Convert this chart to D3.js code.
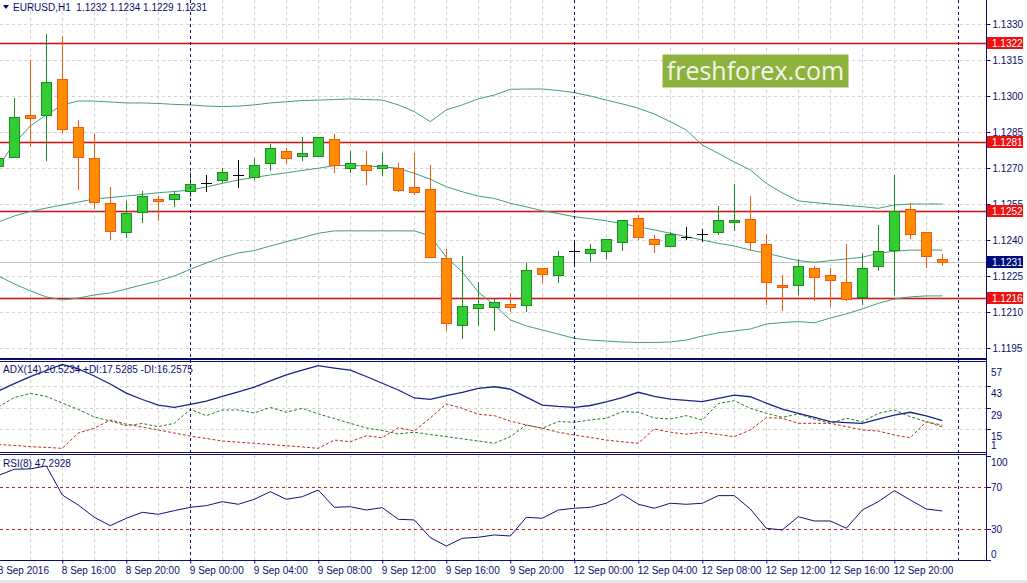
<!DOCTYPE html>
<meta charset="utf-8">
<script src="https://d3js.org/d3.v7.min.js"></script>
<style>
  body { margin: 0; background: #fff; }
  text { font-family: "Liberation Sans", Arial, sans-serif; }
</style>
<body>
<div id="chart"></div>
<script>

// ---- data (EURUSD H1, 8 Sep 12:00 .. 12 Sep 23:00) ----
var openP = [1.12710,1.12747,1.12920,1.12920,1.13070,1.12870,1.12742,1.12553,1.12432,1.12518,
             1.12570,1.12570,1.12603,1.12639,1.12651,1.12670,1.12661,1.12720,1.12770,1.12749,
             1.12749,1.12820,1.12699,1.12711,1.12699,1.12699,1.12620,1.12611,1.12324,1.12045,
             1.12115,1.12122,1.12133,1.12129,1.12283,1.12253,1.12355,1.12345,1.12353,1.12390,
             1.12490,1.12403,1.12374,1.12413,1.12426,1.12433,1.12474,1.12489,1.12382,1.12211,
             1.12211,1.12282,1.12253,1.12224,1.12164,1.12293,1.12360,1.12530,1.12432,1.12320];
var highP = [1.12750,1.12992,1.13150,1.13258,1.13250,1.12900,1.12842,1.12622,1.12563,1.12604,
             1.12583,1.12604,1.12682,1.12671,1.12699,1.12733,1.12742,1.12800,1.12783,1.12828,
             1.12830,1.12842,1.12770,1.12770,1.12761,1.12720,1.12761,1.12711,1.12361,1.12333,
             1.12225,1.12153,1.12180,1.12303,1.12285,1.12355,1.12393,1.12383,1.12405,1.12485,
             1.12504,1.12421,1.12433,1.12453,1.12445,1.12542,1.12633,1.12583,1.12424,1.12253,
             1.12322,1.12293,1.12282,1.12382,1.12345,1.12463,1.12671,1.12553,1.12435,1.12340];
var lowP = [1.12700,1.12740,1.12789,1.12730,1.12847,1.12610,1.12530,1.12400,1.12408,1.12472,
            1.12480,1.12539,1.12580,1.12601,1.12639,1.12618,1.12650,1.12689,1.12718,1.12730,
            1.12747,1.12680,1.12680,1.12630,1.12668,1.12601,1.12589,1.12328,1.12022,1.11988,
            1.12043,1.12022,1.12100,1.12100,1.12220,1.12222,1.12293,1.12308,1.12322,1.12353,
            1.12400,1.12345,1.12372,1.12400,1.12390,1.12421,1.12439,1.12353,1.12129,1.12103,
            1.12172,1.12145,1.12122,1.12146,1.12129,1.12272,1.12172,1.12403,1.12282,1.12290];
var closeP = [1.12740,1.12911,1.12910,1.13057,1.12861,1.12747,1.12560,1.12439,1.12513,1.12583,
              1.12561,1.12592,1.12633,1.12639,1.12682,1.12670,1.12711,1.12782,1.12740,1.12761,
              1.12828,1.12711,1.12720,1.12690,1.12711,1.12610,1.12601,1.12330,1.12053,1.12125,
              1.12132,1.12143,1.12122,1.12275,1.12260,1.12333,1.12355,1.12361,1.12403,1.12482,
              1.12411,1.12382,1.12424,1.12413,1.12426,1.12482,1.12482,1.12390,1.12224,1.12203,
              1.12293,1.12245,1.12232,1.12154,1.12282,1.12354,1.12520,1.12424,1.12332,1.12310];

// Bollinger bands
var bbUpper = [1.12704,1.12804,1.12875,1.12921,1.12963,1.12979,1.12979,1.12975,1.12971,1.12971,
               1.12969,1.12965,1.12963,1.12958,1.12956,1.12958,1.12963,1.12971,1.12976,1.12981,
               1.12983,1.12985,1.12988,1.12985,1.12983,1.12963,1.12935,1.12893,1.12942,1.12963,
               1.12988,1.13004,1.13028,1.13029,1.13029,1.13023,1.13014,1.13000,1.12983,1.12967,
               1.12949,1.12925,1.12893,1.12858,1.12796,1.12761,1.12725,1.12692,1.12636,1.12596,
               1.12563,1.12556,1.12550,1.12544,1.12539,1.12532,1.12546,1.12550,1.12550,1.12550];
var bbMiddle = [1.12475,1.12500,1.12519,1.12533,1.12546,1.12558,1.12571,1.12577,1.12583,1.12590,
                1.12597,1.12602,1.12608,1.12621,1.12636,1.12650,1.12661,1.12671,1.12680,1.12690,
                1.12699,1.12710,1.12711,1.12708,1.12705,1.12699,1.12678,1.12653,1.12622,1.12601,
                1.12583,1.12573,1.12553,1.12538,1.12522,1.12510,1.12497,1.12489,1.12480,1.12468,
                1.12455,1.12442,1.12428,1.12414,1.12400,1.12386,1.12375,1.12358,1.12345,1.12329,
                1.12314,1.12307,1.12314,1.12321,1.12328,1.12345,1.12353,1.12358,1.12358,1.12358];
var bbLower = [1.12250,1.12217,1.12188,1.12163,1.12150,1.12158,1.12171,1.12179,1.12196,1.12213,
               1.12229,1.12250,1.12278,1.12304,1.12328,1.12346,1.12356,1.12375,1.12393,1.12410,
               1.12428,1.12438,1.12438,1.12438,1.12438,1.12438,1.12438,1.12417,1.12328,1.12267,
               1.12183,1.12129,1.12067,1.12042,1.12025,1.12008,1.11990,1.11983,1.11979,1.11975,
               1.11973,1.11973,1.11975,1.11983,1.12000,1.12013,1.12021,1.12029,1.12050,1.12056,
               1.12060,1.12055,1.12075,1.12092,1.12113,1.12136,1.12154,1.12163,1.12167,1.12167];

// ADX(14)
var adx = [39.7,44.6,49.1,53.1,57.1,54.1,49.5,44.3,38.4,34.2,
           30.6,29.1,31.1,33.2,36.2,39.1,42.2,46.3,50.2,53.4,
           56.2,54.7,53.4,49.2,44.8,40.4,35.2,34.3,36.7,38.8,
           41.5,42.5,41.0,35.8,30.6,29.7,29.1,30.3,32.6,35.5,
           38.9,36.2,34.5,33.6,32.8,34.9,37.1,36.0,31.9,28.0,
           25.2,22.5,19.8,19.2,18.7,21.5,24.1,25.9,23.5,20.5];
var plusDI = [29.3,35.5,38.2,36.2,31.9,27.7,22.8,20.2,17.2,18.6,
              16.5,18.7,27.8,23.7,27.4,27.4,25.4,29.1,25.9,28.5,
              24.8,21.8,18.7,15.7,14.0,11.8,12.9,11.4,10.0,8.6,
              7.2,5.7,10.0,17.6,15.5,19.8,19.4,20.9,22.0,26.3,
              25.9,22.2,21.5,23.7,20.9,31.6,33.4,28.5,25.2,22.6,
              24.8,21.5,18.7,22.0,19.8,25.2,27.4,23.0,19.8,17.5];
var minusDI = [4.9,4.3,3.5,3.0,2.4,12.4,15.5,20.9,18.1,16.3,
               14.4,12.4,10.4,8.8,7.2,6.4,5.7,4.9,4.1,3.3,
               2.4,7.8,6.7,10.6,9.3,15.9,13.7,22.2,31.3,28.5,
               24.6,23.7,20.2,17.6,15.5,12.9,11.1,9.5,7.8,6.7,
               5.7,15.0,12.9,11.6,12.9,11.4,10.0,14.4,22.4,22.0,
               18.7,18.7,18.7,16.6,14.4,13.7,11.1,9.3,19.8,16.3];

// RSI(8)
var rsi = [81.3,87.3,87.6,90.5,62.6,53.0,41.2,33.2,40.3,46.0,
           44.1,47.6,50.8,52.4,56.2,53.7,58.5,65.8,58.5,61.0,
           67.4,50.8,51.4,48.2,50.5,39.3,38.7,21.7,13.7,21.1,
           22.1,24.3,23.3,41.2,40.3,48.2,49.9,50.8,54.7,63.3,
           53.7,49.9,54.7,53.7,54.7,62.0,62.0,49.2,30.7,29.1,
           41.8,37.7,37.7,30.7,48.2,56.2,66.8,57.8,49.2,47.3];

// axes / levels
var priceTicks = [1.1330,1.1315,1.1300,1.1285,1.1270,1.1255,1.1240,1.1225,1.1210,1.1195];
var levels = [1.1322,1.1281,1.1252,1.1216];
var lastPrice = 1.1231;
var adxTicks = [57,43,29,15,1];
var adxGrid = [43,29,15];
var rsiTicks = [100,70,30,0];
var rsiLevels = [70,30];
var timeTickIdx = [0,4,8,12,16,20,24,28,32,36,40,44,48,52,56];
var timeTickText = ["8 Sep 2016","8 Sep 16:00","8 Sep 20:00","9 Sep 00:00","9 Sep 04:00",
                    "9 Sep 08:00","9 Sep 12:00","9 Sep 16:00","9 Sep 20:00","12 Sep 00:00",
                    "12 Sep 04:00","12 Sep 08:00","12 Sep 12:00","12 Sep 16:00","12 Sep 20:00"];
var daySeps = [12,36,60];

// ---- layout ----
var W = 1027, H = 583;
var right = 986.5;
var mainTop = 0, mainBottom = 359;
var adxTop = 361.5, adxBottom = 452.5;
var rsiTop = 454.5, rsiBottom = 560.5;
var navy = "#0c0c6e";

var svg = d3.select("#chart").append("svg")
    .attr("width", W)
    .attr("height", H);

svg.append("rect").attr("width", W).attr("height", H).attr("fill", "#fff");
svg.append("rect").attr("x", 0).attr("y", 580).attr("width", W).attr("height", 3).attr("fill", "#e4e4e4");

var x = d3.scaleLinear().domain([0, 60]).range([-1.7, 958.3]);
var yMain = d3.scaleLinear().domain([1.1195, 1.1330]).range([348, 24]);
var yAdx = d3.scaleLinear().domain([15, 43]).range([429, 386]);
var yRsi = d3.scaleLinear().domain([0, 100]).range([560.3, 456]);

function px(v) { return Math.round(v) + 0.5; }

var defs = svg.append("defs");
[["clipMain", mainTop, mainBottom], ["clipAdx", adxTop, adxBottom], ["clipRsi", rsiTop, rsiBottom]]
  .forEach(function (c) {
    defs.append("clipPath").attr("id", c[0])
      .append("rect").attr("x", 0).attr("y", c[1]).attr("width", right).attr("height", c[2] - c[1]);
  });

// ---- grids ----
var gridIdx = d3.range(2, 60, 2).filter(function (i) { return daySeps.indexOf(i) < 0; });

function vGrid(top, bottom) {
  svg.append("g").selectAll("line")
    .data(gridIdx)
    .join("line")
      .attr("x1", function (i) { return px(x(i)); })
      .attr("x2", function (i) { return px(x(i)); })
      .attr("y1", top)
      .attr("y2", bottom)
      .attr("stroke", "#d2d2d2")
      .attr("stroke-dasharray", "3,3")
      .attr("shape-rendering", "crispEdges");
}
vGrid(mainTop, mainBottom);
vGrid(adxTop, adxBottom);
vGrid(rsiTop, rsiBottom);

function hGrid(vals, scale) {
  svg.append("g").selectAll("line")
    .data(vals)
    .join("line")
      .attr("x1", 0)
      .attr("x2", right)
      .attr("y1", function (d) { return px(scale(d)); })
      .attr("y2", function (d) { return px(scale(d)); })
      .attr("stroke", "#d2d2d2")
      .attr("stroke-dasharray", "3,3")
      .attr("shape-rendering", "crispEdges");
}
hGrid(priceTicks, yMain);
hGrid(adxGrid, yAdx);

// current price line
svg.append("line")
  .attr("x1", 0).attr("x2", right)
  .attr("y1", px(yMain(lastPrice))).attr("y2", px(yMain(lastPrice)))
  .attr("stroke", "#c4c4c4")
  .attr("shape-rendering", "crispEdges");

// red support / resistance lines
var lv = svg.append("g");
lv.selectAll("line.glow").data(levels).join("line")
  .attr("class", "glow")
  .attr("x1", 0).attr("x2", right)
  .attr("y1", function (d) { return px(yMain(d)); })
  .attr("y2", function (d) { return px(yMain(d)); })
  .attr("stroke", "#f3b8b8").attr("stroke-width", 3);
lv.selectAll("line.lvl").data(levels).join("line")
  .attr("class", "lvl")
  .attr("x1", 0).attr("x2", right)
  .attr("y1", function (d) { return px(yMain(d)); })
  .attr("y2", function (d) { return px(yMain(d)); })
  .attr("stroke", "#c41c1c")
  .attr("shape-rendering", "crispEdges");

// ---- logo ----
svg.append("rect")
  .attr("x", 662.5).attr("y", 54.5).attr("width", 186).attr("height", 33)
  .attr("fill", "#8db23d");
svg.append("text")
  .attr("x", 755.5).attr("y", 80)
  .attr("text-anchor", "middle")
  .style("font-family", "'Open Sans', sans-serif")
  .style("font-size", "25px")
  .attr("fill", "#f4f6ee")
  .text("freshforex.com");

// ---- Bollinger bands ----
var idx = d3.range(openP.length);
var mainG = svg.append("g").attr("clip-path", "url(#clipMain)");

[bbUpper, bbMiddle, bbLower].forEach(function (band) {
  mainG.append("path")
    .datum(idx)
    .attr("fill", "none")
    .attr("stroke", "#3f9f7d")
    .attr("stroke-width", 1)
    .attr("d", d3.line()
      .x(function (i) { return x(i); })
      .y(function (i) { return yMain(band[i]); }));
});

// ---- candles ----
function kind(i) {
  if (closeP[i] > openP[i]) return "up";
  if (closeP[i] < openP[i]) return "down";
  return "doji";
}
var wickCol = { up: "#1f8a1f", down: "#ee5a14", doji: "#000" };
var fillCol = { up: "#32cd32", down: "#ff8c00" };

mainG.selectAll("line.wick").data(idx).join("line")
  .attr("class", "wick")
  .attr("x1", function (i) { return px(x(i)); })
  .attr("x2", function (i) { return px(x(i)); })
  .attr("y1", function (i) { return Math.round(yMain(highP[i])); })
  .attr("y2", function (i) { return Math.round(yMain(lowP[i])); })
  .attr("stroke", function (i) { return wickCol[kind(i)]; })
  .attr("shape-rendering", "crispEdges");

mainG.selectAll("rect.body").data(idx.filter(function (i) { return kind(i) !== "doji"; })).join("rect")
  .attr("class", "body")
  .attr("x", function (i) { return Math.round(x(i)) - 4.5; })
  .attr("width", 10)
  .attr("y", function (i) { return Math.round(yMain(Math.max(openP[i], closeP[i]))) + 0.5; })
  .attr("height", function (i) {
    var h = Math.round(yMain(Math.min(openP[i], closeP[i]))) - Math.round(yMain(Math.max(openP[i], closeP[i])));
    return Math.max(h, 2);
  })
  .attr("fill", function (i) { return fillCol[kind(i)]; })
  .attr("stroke", function (i) { return wickCol[kind(i)]; })
  .attr("shape-rendering", "crispEdges");

mainG.selectAll("line.doji").data(idx.filter(function (i) { return kind(i) === "doji"; })).join("line")
  .attr("class", "doji")
  .attr("x1", function (i) { return Math.round(x(i)) - 5; })
  .attr("x2", function (i) { return Math.round(x(i)) + 6; })
  .attr("y1", function (i) { return px(yMain(openP[i])); })
  .attr("y2", function (i) { return px(yMain(openP[i])); })
  .attr("stroke", "#000")
  .attr("shape-rendering", "crispEdges");

// ---- ADX panel ----
var adxG = svg.append("g").attr("clip-path", "url(#clipAdx)");
function seriesLine(g, arr, scale, color, width, dash) {
  var p = g.append("path")
    .datum(idx)
    .attr("fill", "none")
    .attr("stroke", color)
    .attr("stroke-width", width)
    .attr("d", d3.line()
      .x(function (i) { return x(i); })
      .y(function (i) { return scale(arr[i]); }));
  if (dash) p.attr("stroke-dasharray", dash);
}
seriesLine(adxG, plusDI, yAdx, "#237d23", 1, "3,2");
seriesLine(adxG, minusDI, yAdx, "#c42a22", 1, "3,2");
seriesLine(adxG, adx, yAdx, "#1a2488", 1.3, null);

// ---- RSI panel ----
var rsiG = svg.append("g").attr("clip-path", "url(#clipRsi)");
rsiG.selectAll("line.lv").data(rsiLevels).join("line")
  .attr("x1", 0).attr("x2", right)
  .attr("y1", function (d) { return px(yRsi(d)); })
  .attr("y2", function (d) { return px(yRsi(d)); })
  .attr("stroke", "#cc1f1f")
  .attr("stroke-dasharray", "3,3")
  .attr("shape-rendering", "crispEdges");
seriesLine(rsiG, rsi, yRsi, "#12127a", 1, null);

// ---- day separators ----
svg.append("g").selectAll("line")
  .data(daySeps)
  .join("line")
    .attr("x1", function (i) { return px(x(i)); })
    .attr("x2", function (i) { return px(x(i)); })
    .attr("y1", 0)
    .attr("y2", rsiBottom)
    .attr("stroke", "#10106a")
    .attr("stroke-dasharray", "3,3")
    .attr("shape-rendering", "crispEdges");

// ---- panel borders ----
var borders = svg.append("g")
  .attr("stroke", navy)
  .attr("stroke-width", 1.2)
  .attr("shape-rendering", "crispEdges");
[mainBottom, adxTop, adxBottom, rsiTop, rsiBottom].forEach(function (yy) {
  borders.append("line").attr("x1", 0).attr("x2", right).attr("y1", yy).attr("y2", yy);
});
borders.append("line").attr("x1", right).attr("x2", right).attr("y1", 0).attr("y2", rsiBottom);

// ---- price axis ----
var pAxis = svg.append("g")
  .attr("transform", "translate(" + right + ",0)")
  .call(d3.axisRight(yMain).tickValues(priceTicks).tickSize(4).tickPadding(2).tickFormat(d3.format(".4f")));
pAxis.select(".domain").remove();
pAxis.selectAll("line").attr("stroke", navy);
pAxis.selectAll("text").attr("fill", navy).style("font-size", "10px")
  .style("font-family", "'Liberation Sans', Arial, sans-serif");

// level tags
var tags = [{ v: lastPrice, c: "#000c80" }].concat(levels.map(function (l) { return { v: l, c: "#f01010" }; }));
var tg = svg.append("g").selectAll("g").data(tags).join("g")
  .attr("transform", function (d) { return "translate(987," + Math.round(yMain(d.v)) + ")"; });
tg.append("rect").attr("x", 0).attr("y", -6).attr("width", 36).attr("height", 12).attr("fill", function (d) { return d.c; });
tg.append("text").attr("x", 5).attr("y", 4).attr("fill", "#fff").style("font-size", "10px")
  .text(function (d) { return d3.format(".4f")(d.v); });

// ADX axis
var adxAx = svg.append("g");
adxAx.selectAll("line").data(adxGrid).join("line")
  .attr("x1", right).attr("x2", right + 4)
  .attr("y1", function (d) { return px(yAdx(d)); })
  .attr("y2", function (d) { return px(yAdx(d)); })
  .attr("stroke", navy).attr("shape-rendering", "crispEdges");
adxAx.selectAll("text").data(adxTicks).join("text")
  .attr("x", 991)
  .attr("y", function (d) { return Math.max(368, Math.min(445, yAdx(d) + 7.5)) + 3.5; })
  .attr("fill", navy).style("font-size", "10px")
  .text(function (d) { return d; });

// RSI axis
var rsiAx = svg.append("g");
rsiAx.selectAll("line").data(rsiTicks).join("line")
  .attr("x1", right).attr("x2", right + 4)
  .attr("y1", function (d) { return px(yRsi(d)); })
  .attr("y2", function (d) { return px(yRsi(d)); })
  .attr("stroke", navy).attr("shape-rendering", "crispEdges");
rsiAx.selectAll("text").data(rsiTicks).join("text")
  .attr("x", 991)
  .attr("y", function (d) { return Math.max(462, Math.min(554, yRsi(d))) + 3.5; })
  .attr("fill", navy).style("font-size", "10px")
  .text(function (d) { return d; });

// ---- time axis ----
var tAxis = svg.append("g")
  .attr("transform", "translate(0," + rsiBottom + ")")
  .call(d3.axisBottom(x).tickValues(timeTickIdx).tickSize(3).tickPadding(3)
    .tickFormat(function (d, k) { return timeTickText[k]; }));
tAxis.select(".domain").remove();
tAxis.selectAll("line").attr("stroke", navy);
tAxis.selectAll("text").attr("fill", navy).attr("text-anchor", "start").attr("dx", "-1")
  .style("font-size", "10px").style("font-family", "'Liberation Sans', Arial, sans-serif");

// ---- captions ----
svg.append("path").attr("d", "M3,5 L9,5 L6,9 Z").attr("fill", navy);
svg.append("text").attr("x", 13).attr("y", 11).attr("fill", navy)
  .style("font-size", "10px").style("white-space", "pre")
  .text("EURUSD,H1  1.1232 1.1234 1.1229 1.1231");
svg.append("text").attr("x", 3).attr("y", 373).attr("fill", navy)
  .style("font-size", "10px")
  .text("ADX(14) 20.5234 +DI:17.5285 -DI:16.2575");
svg.append("text").attr("x", 3).attr("y", 467).attr("fill", navy)
  .style("font-size", "10px")
  .text("RSI(8) 47.2928");

</script>
</body>
